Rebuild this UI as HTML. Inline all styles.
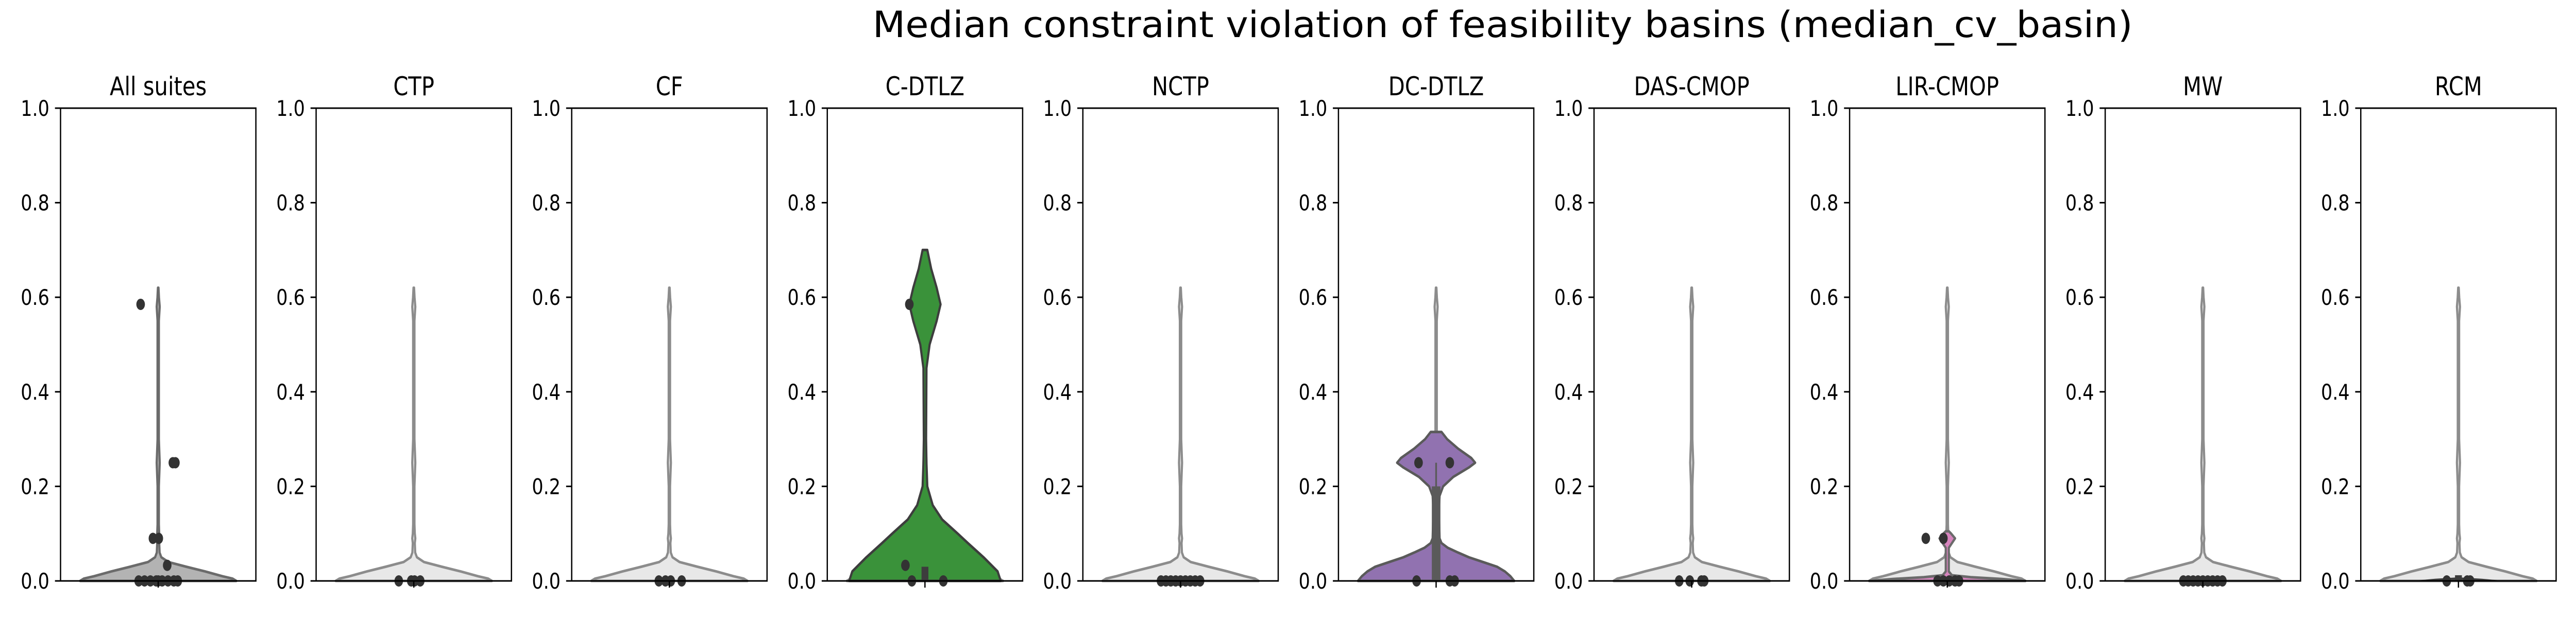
<!DOCTYPE html>
<html><head><meta charset="utf-8"><style>
html,body{margin:0;padding:0;background:#fff;width:100%;height:100%;overflow:hidden;}
svg{display:block;position:absolute;left:0;top:0;width:100vw;height:100vh;font-family:"DejaVu Sans","Liberation Sans",sans-serif;}
</style></head><body>
<svg id="chart" viewBox="0 0 6000 1200" preserveAspectRatio="none">
<rect width="6000" height="1200" fill="#fff"/>
<text x="3500" y="72" font-size="70" text-anchor="middle" textLength="2935" lengthAdjust="spacingAndGlyphs">Median constraint violation of feasibility basins (median_cv_basin)</text>
<g id="panels"></g>
</svg>
<script>
// ---- data ----
const suites = ["All suites","CTP","CF","C-DTLZ","NCTP","DC-DTLZ","DAS-CMOP","LIR-CMOP","MW","RCM"];
const yTicks = [0.0,0.2,0.4,0.6,0.8,1.0];
const yTickLabels = ["0.0","0.2","0.4","0.6","0.8","1.0"];
// background (all-data) violin density profile
const baseY = [0,0.005,0.01,0.02,0.03,0.04,0.05,0.06,0.08,0.09,0.1,0.12,0.2,0.25,0.3,0.55,0.58,0.6,0.62];
const baseW = [1.0,0.95,0.82,0.6,0.36,0.13,0.04,0.018,0.013,0.02,0.013,0.009,0.009,0.02,0.009,0.009,0.02,0.01,0.004];
// C-DTLZ violin
const cdtlzY = [0,0.02,0.05,0.08,0.1,0.13,0.16,0.2,0.25,0.3,0.45,0.5,0.55,0.585,0.62,0.66,0.7];
const cdtlzW = [0.97,0.93,0.75,0.55,0.42,0.22,0.1,0.03,0.02,0.015,0.02,0.06,0.15,0.2,0.15,0.08,0.03];
// DC-DTLZ violin
const dcY = [0,0.01,0.02,0.03,0.04,0.05,0.06,0.07,0.08,0.09,0.15,0.18,0.2,0.22,0.24,0.25,0.26,0.28,0.3,0.315];
const dcW = [1.0,0.95,0.88,0.78,0.6,0.42,0.28,0.15,0.07,0.045,0.035,0.045,0.09,0.22,0.42,0.5,0.45,0.28,0.14,0.07];
// LIR-CMOP violin
const lirY = [0,0.004,0.008,0.012,0.02,0.07,0.08,0.09,0.1,0.105];
const lirW = [1.0,0.7,0.3,0.06,0.02,0.02,0.06,0.1,0.05,0.02];
// RCM violin
const rcmY = [0,0.003,0.006];
const rcmW = [0.5,0.3,0.0];
// points per suite: y values and x offsets (category units)
const ptsY = [
 [0.585,0.25,0.25,0.09,0.09,0.033,0,0,0,0,0,0,0,0,0],
 [0,0,0,0],
 [0,0,0,0],
 [0.585,0.033,0,0],
 [0,0,0,0,0,0,0,0,0],
 [0.25,0.25,0,0,0],
 [0,0,0,0],
 [0.09,0.09,0,0,0,0,0],
 [0,0,0,0,0,0,0,0,0],
 [0,0,0]
];
const ptsX = [
 [-0.09,0.075,0.088,-0.027,0.003,0.046,-0.1,-0.07,-0.04,-0.01,0.02,0.05,0.08,0.1,0.0],
 [-0.077,-0.013,0.004,0.033],
 [-0.054,-0.02,0.007,0.063],
 [-0.08,-0.1,-0.067,0.094],
 [-0.1,-0.075,-0.05,-0.025,0,0.025,0.05,0.075,0.1],
 [-0.09,0.07,-0.1,0.07,0.095],
 [-0.064,-0.01,0.05,0.064],
 [-0.11,-0.02,-0.05,-0.02,0.01,0.04,0.06],
 [-0.1,-0.075,-0.05,-0.025,0,0.025,0.05,0.075,0.1],
 [-0.06,0.045,0.06]
];
// ---- layout ----
const P0 = 141, STEP = 595.3, PW = 455, TOP = 210, BOT = 1128;
const NS = "http://www.w3.org/2000/svg";
const g = document.getElementById('panels');
function yScale(v){ return BOT - v*(BOT-TOP); }
function xScale(i,c){ return P0 + STEP*i + PW/2 + c*PW; }
const HALF = 0.4;
function mk(tag, attrs, parent){ const e=document.createElementNS(NS,tag); for(const k in attrs) e.setAttribute(k,attrs[k]); (parent||g).appendChild(e); return e; }
function violinPath(i, ys, ws){
  let r=[], l=[];
  for(let k=0;k<ys.length;k++){
    r.push([xScale(i, ws[k]*HALF), yScale(ys[k])]);
    l.push([xScale(i,-ws[k]*HALF), yScale(ys[k])]);
  }
  let d = "M"+l[0][0].toFixed(1)+","+l[0][1].toFixed(1);
  for(let k=0;k<r.length;k++) d += " L"+r[k][0].toFixed(1)+","+r[k][1].toFixed(1);
  for(let k=l.length-1;k>=0;k--) d += " L"+l[k][0].toFixed(1)+","+l[k][1].toFixed(1);
  return d+" Z";
}
const special = {3:[cdtlzY,cdtlzW,"#3a923a","#3d3d3d"],5:[dcY,dcW,"#9172b0","#5a5a5a"],7:[lirY,lirW,"#d684bd","#6b6b6b"],9:[rcmY,rcmW,"#444","#3d3d3d"]};
suites.forEach((name,i)=>{
  const L = P0+STEP*i;
  const pg = mk('g',{});
  
  
  const t = mk('text',{x:L+PW/2,y:185,'font-size':50,'text-anchor':'middle'},pg);
  t.textContent = name;
  
  
  const isAll = i===0;
  const bv = mk('path',{d:violinPath(i,baseY,baseW),fill:isAll?"#b3b3b3":"#e8e8e8",stroke:isAll?"#6b6b6b":"#8c8c8c","stroke-width":5,"stroke-linejoin":"round"},pg);
  
  
  if(special[i]){
    const s = special[i];
    const sv = mk('path',{d:violinPath(i,s[0],s[1]),fill:s[2],stroke:s[3],"stroke-width":i===9?3:5,"stroke-linejoin":"round"},pg);
    
    
  }
  if(i===5){
    const w = mk('line',{x1:xScale(i,0),x2:xScale(i,0),y1:yScale(0),y2:yScale(0.25),stroke:"#5a5a5a","stroke-width":4},pg);
    
    
    const b = mk('rect',{x:xScale(i,0)-10,y:yScale(0.2),width:20,height:yScale(0)-yScale(0.2),fill:"#5a5a5a"},pg);
    
    
  }
  if(i===3 || i===9){
    const top = i===3?0.03:0.012;
    const b = mk('rect',{x:xScale(i,0)-8,y:yScale(top),width:16,height:yScale(0)-yScale(top),fill:"#3d3d3d"},pg);
    
    
  }
  ptsY[i].forEach((v,k)=>{
    const c = mk('ellipse',{cx:xScale(i,ptsX[i][k]),cy:yScale(v),rx:10,ry:11,fill:"#333333"},pg);
    
    
  });
  const fr = mk('rect',{x:L,y:TOP,width:PW,height:BOT-TOP,fill:"none",stroke:"#000","stroke-width":3},pg);
  
  
  yTicks.forEach((v,k)=>{
    const tk = mk('line',{x1:L-13,x2:L,y1:yScale(v),y2:yScale(v),stroke:"#000","stroke-width":3},pg);
    
    
    const tl = mk('text',{x:L-26,y:yScale(v)+15,'font-size':42,'text-anchor':'end'},pg);
    tl.textContent = yTickLabels[k];
    
    
  });
  const xt = mk('line',{x1:L+PW/2,x2:L+PW/2,y1:BOT,y2:BOT+13,stroke:"#000","stroke-width":3},pg);
  
  
});
</script>
</body></html>
